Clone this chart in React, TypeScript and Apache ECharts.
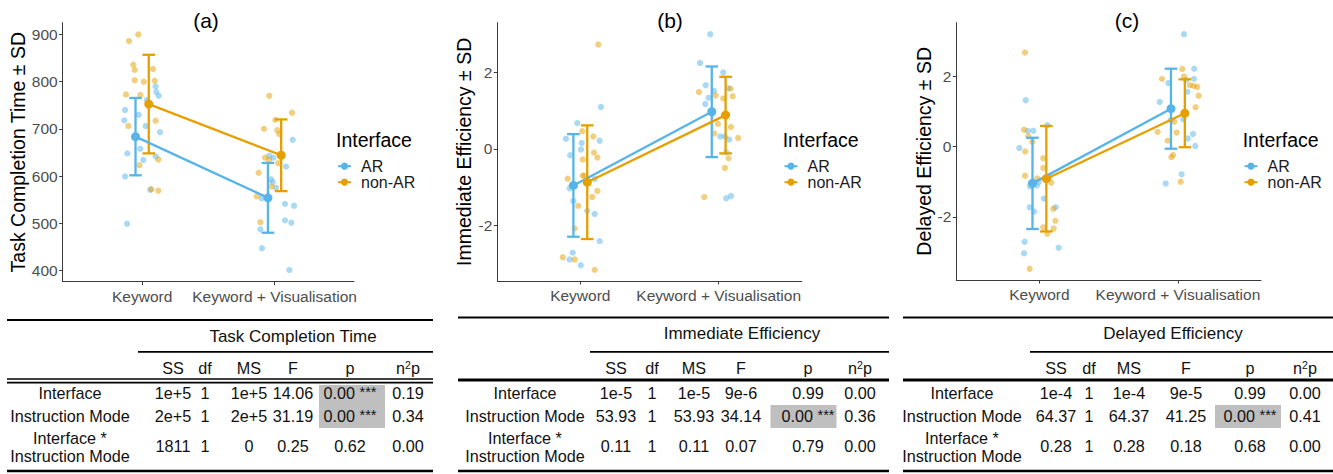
import React, { useEffect, useRef } from "react";
import * as echarts from "echarts";

// ---------------- data ----------------
const categories = ["Keyword", "Keyword + Visualisation"];
const interfaces = ["AR", "non-AR"];

// (a) Task completion time: individual observations [x position (category + jitter), value]
const tctArPoints = [
  [0.871, 740], [0.865, 718], [0.888, 648], [0.871, 599], [0.886, 499], [0.974, 730], [1.037, 761], [1.102, 790],
  [1.107, 778], [1.125, 770], [1.027, 706], [0.986, 658], [1.009, 634], [1.135, 693], [1.102, 642], [1.062, 571],
  [1.96, 643], [1.991, 639], [2.137, 677], [2.087, 620], [1.903, 553], [1.973, 593], [1.986, 587], [2.011, 575],
  [2.079, 541], [2.147, 537], [2.079, 506], [2.127, 501], [1.893, 487], [1.905, 447], [2.112, 401],
];
const tctNonArPoints = [
  [0.901, 886], [0.971, 900], [0.933, 836], [0.944, 825], [0.944, 803], [1.012, 800], [1.082, 827], [1.095, 802],
  [0.878, 773], [0.986, 772], [0.896, 706], [1.102, 717], [1.122, 635], [0.979, 623], [1.069, 572], [1.122, 569],
  [1.96, 770], [1.92, 700], [2.006, 719], [2.021, 697], [2.036, 689], [2.132, 734], [1.88, 607], [1.928, 639],
  [1.958, 634], [2.028, 627], [1.865, 557], [1.976, 578], [1.893, 502],
];
const tctArMean = [683.5, 553.8];
const tctArSd = [82, 74];
const tctNonArMean = [752.5, 644];
const tctNonArSd = [104.5, 76];
const tctTicks = [400, 500, 600, 700, 800, 900];

// (b) Immediate efficiency
const ieArPoints = [
  [0.978, 0.67], [0.896, 0.26], [1.14, 0.21], [1.01, 0.15], [1.005, -0.02], [0.927, -0.17], [1.149, 1.09], [1.104, -0.79],
  [0.923, -1.03], [0.949, -1.36], [1.05, -1.62], [1.104, -1.7], [1.14, -2.41], [0.945, -2.71], [0.923, -2.89], [1.003, -3.04],
  [1.939, 2.99], [1.865, 2.24], [2.033, 1.99], [1.906, 1.66], [1.966, 1.51], [1.927, 1.33], [1.903, 1.17], [2.069, 1.58],
  [2.011, 0.32], [2.045, 0.32], [2.076, 0.24], [2.055, -0.09], [2.055, -1.29], [2.089, -1.23],
];
const ieNonArPoints = [
  [1.13, 2.72], [1.014, 0.46], [1.094, 0.32], [1.017, -0.28], [1.099, -0.1], [1.123, -0.23], [0.909, -0.78], [1.017, -0.7],
  [1.029, -0.7], [1.123, -1.1], [1.086, -1.26], [0.985, -1.49], [0.959, -2.08], [0.873, -2.83], [0.959, -2.89], [1.104, -3.16],
  [1.857, 1.48], [1.978, 1.39], [2.086, 1.57], [2.101, 1.37], [2.033, 1.31], [1.995, 0.65], [1.968, 0.4], [2.089, 0.57],
  [2.141, 0.28], [2.072, -0.25], [2.045, -0.5], [1.896, -1.26],
];
const ieArMean = [-0.956, 0.966];
const ieArSd = [1.339, 1.182];
const ieNonArMean = [-0.872, 0.879];
const ieNonArSd = [1.483, 0.999];
const ieTicks = [-2, 0, 2];

// (c) Delayed efficiency
const deArPoints = [
  [0.901, 1.32], [0.916, 0.45], [0.956, 0.45], [0.855, -0.04], [0.932, -1.13], [0.981, -1.11], [0.995, -1.01], [1.057, 0.61],
  [1.033, -1.48], [0.93, -1.73], [0.961, -1.85], [1.118, -1.73], [0.894, -2.71], [0.889, -3.04], [1.139, -2.88], [1.071, -0.89],
  [2.044, 3.2], [2.118, 2.22], [2.116, 1.93], [1.931, 1.81], [2.059, 1.9], [2.068, 1.56], [1.869, 1.27], [2.039, 0.78],
  [1.948, 0.76], [2.109, 0.36], [2.071, 0.23], [2.126, 0.02], [2.027, -0.79], [1.912, -1.05],
];
const deNonArPoints = [
  [0.896, 2.68], [0.889, 0.48], [0.92, 0.3], [0.949, 0.14], [0.898, -0.14], [0.896, -0.83], [1.028, -0.33], [1.028, -0.61],
  [0.985, -0.91], [1.086, -1.03], [1.1, -1.77], [1.115, -2.11], [1.028, -2.3], [1.103, -2.33], [1.057, -2.48], [0.93, -3.48],
  [2.032, 2.21], [2.044, 2.0], [1.885, 1.93], [2.087, 1.75], [2.114, 1.73], [2.14, 1.7], [2.15, 1.45], [2.128, 1.12],
  [1.974, 0.71], [1.991, 0.4], [1.854, 0.42], [1.926, 0.17], [1.965, -0.24], [1.953, -0.3], [2.02, -1.0],
];
const deArMean = [-1.047, 1.08];
const deArSd = [1.3, 1.14];
const deNonArMean = [-0.914, 0.95];
const deNonArSd = [1.503, 0.967];
const deTicks = [-2, 0, 2];

// ANOVA tables
const tableHeader = ["SS", "df", "MS", "F", "p", "n²p"];
const effectLabels = [["Interface"], ["Instruction Mode"], ["Interface *", "Instruction Mode"]];
const tctTable = [
  ["1e+5", "1", "1e+5", "14.06", "0.00 ***", "0.19"],
  ["2e+5", "1", "2e+5", "31.19", "0.00 ***", "0.34"],
  ["1811", "1", "0", "0.25", "0.62", "0.00"],
];
const ieTable = [
  ["1e-5", "1", "1e-5", "9e-6", "0.99", "0.00"],
  ["53.93", "1", "53.93", "34.14", "0.00 ***", "0.36"],
  ["0.11", "1", "0.11", "0.07", "0.79", "0.00"],
];
const deTable = [
  ["1e-4", "1", "1e-4", "9e-5", "0.99", "0.00"],
  ["64.37", "1", "64.37", "41.25", "0.00 ***", "0.41"],
  ["0.28", "1", "0.28", "0.18", "0.68", "0.00"],
];

// ---------------- layout / style ----------------
const FONT = "'Liberation Sans', Arial, Helvetica, sans-serif";
const COLORS: Record<string, string> = { AR: "#56B4E9", "non-AR": "#E69F00" };
const DODGE = [-0.05, 0.05];
const AXIS_COLOR = "#3a3a3a";

const panels = [
  {
    title: "(a)", titleX: 206, yName: "Task Completion Time ± SD", nameGap: 33,
    grid: { left: 62.7, top: 22.7, width: 291.3, height: 259 },
    yMin: 376, yMax: 925, yTicks: tctTicks, xLabelMargin: 7,
    points: [tctArPoints, tctNonArPoints], means: [tctArMean, tctNonArMean], sds: [tctArSd, tctNonArSd],
    legendX: 336, legendKeyX: 343.5,
    table: { name: "Task Completion Time", rows: tctTable, left: 7, right: 433, ruleLeft: 138, titleX: 293, titleY: 336,
      labelX: 70, colX: [173, 205, 249, 293, 350, 408], topY: 320, doubleRule: true, hlX: 352 },
  },
  {
    title: "(b)", titleX: 670, yName: "Immediate Efficiency ± SD", nameGap: 23,
    grid: { left: 497.3, top: 22.7, width: 304.4, height: 258.3 },
    yMin: -3.45, yMax: 3.29, yTicks: ieTicks, xLabelMargin: 6,
    points: [ieArPoints, ieNonArPoints], means: [ieArMean, ieNonArMean], sds: [ieArSd, ieNonArSd],
    legendX: 782.7, legendKeyX: 790,
    table: { name: "Immediate Efficiency", rows: ieTable, left: 458, right: 889, ruleLeft: 590, titleX: 742, titleY: 333.5,
      labelX: 525, colX: [616, 652, 694, 741, 808, 860], topY: 317.5, doubleRule: false, hlX: 803.5 },
  },
  {
    title: "(c)", titleX: 1127, yName: "Delayed Efficiency ± SD", nameGap: 22,
    grid: { left: 956.3, top: 22.7, width: 304.7, height: 257.3 },
    yMin: -3.8, yMax: 3.53, yTicks: deTicks, xLabelMargin: 6,
    points: [deArPoints, deNonArPoints], means: [deArMean, deNonArMean], sds: [deArSd, deNonArSd],
    legendX: 1242.7, legendKeyX: 1250,
    table: { name: "Delayed Efficiency", rows: deTable, left: 903, right: 1333, ruleLeft: 1030, titleX: 1173, titleY: 333.5,
      labelX: 962, colX: [1056, 1089, 1129, 1186, 1250, 1305], topY: 317.5, doubleRule: false, hlX: 1248 },
  },
];

const ROW_Y = [393, 416, 446];
const ROW_LINES_Y = [[393], [416], [437.5, 455.5]];
const HL_TOP = [385, 405, 434];
const HL_BOTTOM = [405, 428, 456];
const HEADER_Y = 368;
const BOTTOM_Y = 471;
const TABLE_FS = 16.2;

function text(x: number, y: number, str: string, fontSize: number, extra: any = {}) {
  return {
    type: "text", x, y, z: 10, silent: true,
    style: {
      text: str, fontSize, fontFamily: FONT, fill: "#111",
      align: "center", verticalAlign: "middle", textAlign: "center", textVerticalAlign: "middle",
      ...extra,
    },
  };
}

function hline(x1: number, x2: number, y: number, w: number) {
  return { type: "line", z: 10, silent: true, shape: { x1, y1: y, x2, y2: y }, style: { stroke: "#000", lineWidth: w } };
}

function tableGraphics(t: any) {
  const els: any[] = [];
  els.push(hline(t.left, t.right, t.topY, 2.2));
  els.push(text(t.titleX, t.titleY, t.name, 17));
  els.push(hline(t.ruleLeft, t.right, 351.8, 1.8));
  tableHeader.forEach((h, i) => {
    if (h === "n²p") {
      els.push(text(t.colX[i], HEADER_Y, "n{sup|2}p", TABLE_FS, {
        rich: { sup: { fontSize: 10.5, fontFamily: FONT, fill: "#111", verticalAlign: "top", lineHeight: 18 } },
      }));
    } else {
      els.push(text(t.colX[i], HEADER_Y, h, TABLE_FS));
    }
  });
  if (t.doubleRule) {
    els.push(hline(t.left, t.right, 379, 1.6));
    els.push(hline(t.left, t.right, 382.6, 1.6));
  } else {
    els.push(hline(t.left, t.right, 380, 3.2));
  }
  t.rows.forEach((row: string[], r: number) => {
    effectLabels[r].forEach((lab, k) => els.push(text(t.labelX, ROW_LINES_Y[r][k], lab, TABLE_FS)));
    row.forEach((v, c) => {
      if (v.indexOf("***") >= 0) {
        els.push({
          type: "rect", z: 5, silent: true,
          shape: { x: t.hlX - 33, y: HL_TOP[r], width: 66, height: HL_BOTTOM[r] - HL_TOP[r] },
          style: { fill: "#BFBFBF" },
        });
        els.push(text(t.colX[c], ROW_Y[r], v.replace("***", "{s|***}"), TABLE_FS, {
          rich: { s: { fontSize: 14.5, fontFamily: FONT, fill: "#111", verticalAlign: "top", lineHeight: 18 } },
        }));
      } else {
        els.push(text(t.colX[c], ROW_Y[r], v, TABLE_FS));
      }
    });
  });
  els.push(hline(t.left, t.right, BOTTOM_Y, 2.6));
  return els;
}

function buildOption() {
  const grid = panels.map((p) => ({ ...p.grid, containLabel: false }));
  const xAxis = panels.map((p, i) => ({
    gridIndex: i, type: "value", min: 0.4, max: 2.6,
    axisLine: { show: true, onZero: false, lineStyle: { color: AXIS_COLOR, width: 1 } },
    axisTick: { show: true, customValues: [1, 2], length: 3.5, lineStyle: { color: AXIS_COLOR, width: 1 } },
    axisLabel: {
      show: true, customValues: [1, 2], margin: p.xLabelMargin,
      formatter: (v: number) => categories[Math.round(v) - 1] ?? "",
      fontSize: 15.5, color: "#4d4d4d", fontFamily: FONT,
    },
    splitLine: { show: false },
  }));
  const yAxis = panels.map((p, i) => ({
    gridIndex: i, type: "value", min: p.yMin, max: p.yMax,
    name: p.yName, nameLocation: "middle", nameRotate: 90, nameGap: p.nameGap,
    nameTextStyle: { fontSize: 19.5, color: "#000", fontFamily: FONT },
    axisLine: { show: true, onZero: false, lineStyle: { color: AXIS_COLOR, width: 1 } },
    axisTick: { show: true, customValues: p.yTicks, length: 3.5, lineStyle: { color: AXIS_COLOR, width: 1 } },
    axisLabel: { show: true, customValues: p.yTicks, margin: 5, fontSize: 15.5, color: "#4d4d4d", fontFamily: FONT },
    splitLine: { show: false },
  }));

  const series: any[] = [];
  panels.forEach((p, i) => {
    interfaces.forEach((g, gi) => {
      series.push({
        name: g + " observations", type: "scatter", xAxisIndex: i, yAxisIndex: i, z: 2,
        data: p.points[gi], symbol: "circle", symbolSize: 6.3,
        itemStyle: { color: COLORS[g], opacity: 0.5 },
        emphasis: { disabled: true },
      });
    });
  });
  panels.forEach((p, i) => {
    interfaces.forEach((g, gi) => {
      const color = COLORS[g];
      series.push({
        name: g + " ± SD", type: "custom", xAxisIndex: i, yAxisIndex: i, z: 3,
        encode: { x: 0, y: [1, 2] },
        data: categories.map((_, k) => [k + 1 + DODGE[gi], p.means[gi][k] - p.sds[gi][k], p.means[gi][k] + p.sds[gi][k]]),
        renderItem: (_params: any, api: any) => {
          const x = api.value(0);
          const a = api.coord([x, api.value(1)]);
          const b = api.coord([x, api.value(2)]);
          const hw = 6.3;
          const style = { stroke: color, lineWidth: 2.3, fill: "none" };
          return {
            type: "group",
            children: [
              { type: "line", shape: { x1: a[0], y1: a[1], x2: b[0], y2: b[1] }, style },
              { type: "line", shape: { x1: a[0] - hw, y1: a[1], x2: a[0] + hw, y2: a[1] }, style },
              { type: "line", shape: { x1: b[0] - hw, y1: b[1], x2: b[0] + hw, y2: b[1] }, style },
            ],
          };
        },
      });
      series.push({
        name: g, type: "line", xAxisIndex: i, yAxisIndex: i, z: 4,
        data: categories.map((_, k) => [k + 1 + DODGE[gi], p.means[gi][k]]),
        symbol: "circle", symbolSize: 9, showSymbol: true,
        lineStyle: { color, width: 2.3 }, itemStyle: { color },
        emphasis: { disabled: true },
      });
    });
  });

  const legend = panels.map((p) => ({
    orient: "vertical", left: p.legendKeyX - 6.5, top: 158.2, padding: 0, itemGap: 0,
    itemWidth: 13, itemHeight: 9, selectedMode: false,
    data: interfaces,
    textStyle: { fontSize: 16, color: "#1a1a1a", fontFamily: FONT, lineHeight: 15, padding: [0, 0, 0, 5] },
  }));

  const graphic: any[] = [];
  panels.forEach((p) => {
    graphic.push(text(p.titleX, 20, p.title, 21, { fill: "#000" }));
    graphic.push(text(p.legendX, 140, "Interface", 19.5, { align: "left", textAlign: "left", fill: "#000" }));
    tableGraphics(p.table).forEach((e) => graphic.push(e));
  });

  return {
    animation: false,
    backgroundColor: "#ffffff",
    textStyle: { fontFamily: FONT },
    grid, xAxis, yAxis, series, legend,
    graphic: { elements: graphic },
  };
}

export default function App() {
  const ref = useRef<HTMLDivElement>(null);
  useEffect(() => {
    if (!ref.current) return;
    const chart = echarts.init(ref.current, undefined, { renderer: "svg" });
    chart.setOption(buildOption() as any);
    return () => chart.dispose();
  }, []);
  return (
    <div
      ref={ref}
      style={{ position: "fixed", left: 0, top: 0, width: 1333, height: 474, background: "#fff" }}
    />
  );
}
